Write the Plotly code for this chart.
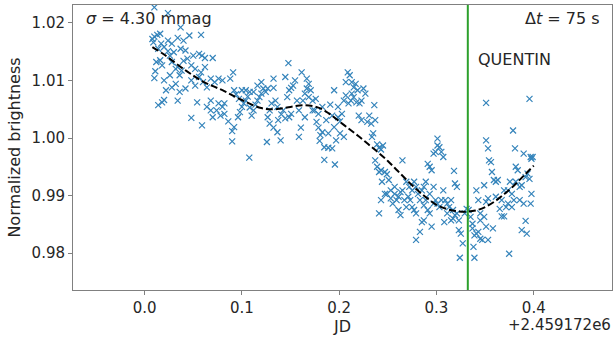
import plotly.graph_objects as go

# Light curve: JD offset from 2459172 and normalized brightness
jd_a = [0.010, 0.024, 0.037, 0.008, 0.010, 0.013, 0.016, 0.009, 0.017, 0.014,
        0.020, 0.024, 0.028, 0.024, 0.030, 0.026, 0.034, 0.040, 0.046, 0.058,
        0.037, 0.042, 0.044, 0.050, 0.056, 0.059, 0.062, 0.012, 0.016, 0.018,
        0.028, 0.034, 0.038, 0.040, 0.048, 0.052, 0.058, 0.062, 0.070, 0.011,
        0.010, 0.020, 0.026, 0.028, 0.032, 0.036, 0.048, 0.052, 0.056, 0.060,
        0.064, 0.068, 0.014, 0.018, 0.020, 0.034, 0.048, 0.054, 0.059, 0.036,
        0.022, 0.042, 0.032]
flux_a = [1.0227, 1.0217, 1.0192, 1.0172, 1.0176, 1.0179, 1.0181, 1.0166, 1.0164, 1.0155,
          1.0158, 1.0169, 1.0164, 1.0151, 1.0149, 1.0143, 1.0174, 1.0169, 1.0178, 1.0179,
          1.0155, 1.0152, 1.0138, 1.0143, 1.0146, 1.0143, 1.0139, 1.0132, 1.0135, 1.0126,
          1.0132, 1.0123, 1.0117, 1.0134, 1.0126, 1.0120, 1.0114, 1.0123, 1.0139, 1.0116,
          1.0104, 1.0100, 1.0109, 1.0088, 1.0094, 1.0109, 1.0100, 1.0091, 1.0106, 1.0097,
          1.0088, 1.0103, 1.0057, 1.0062, 1.0066, 1.0065, 1.0035, 1.0062, 1.0022, 1.0080,
          1.0083, 1.0086, 1.0120]

jd_b = [0.076, 0.072, 0.080, 0.088, 0.091, 0.064, 0.068, 0.070, 0.068, 0.076,
        0.080, 0.082, 0.086, 0.090, 0.090, 0.092, 0.096, 0.098, 0.100, 0.102,
        0.104, 0.106, 0.108, 0.092, 0.094, 0.097, 0.104, 0.108, 0.110, 0.112,
        0.114, 0.116, 0.118, 0.120, 0.122, 0.1245, 0.1265, 0.116, 0.120, 0.1325,
        0.1345, 0.1325, 0.1285, 0.1265, 0.1285, 0.1325, 0.1365, 0.1398, 0.1373, 0.1405,
        0.1425, 0.1446, 0.1486, 0.1506, 0.1466, 0.1486, 0.1506, 0.1526, 0.1546, 0.1076,
        0.1257, 0.1478, 0.1446, 0.100, 0.082, 0.074, 0.078, 0.112, 0.1305, 0.1365]
flux_b = [1.0103, 1.0097, 1.0100, 1.0103, 1.0114, 1.0054, 1.0048, 1.0036, 1.0065, 1.0060,
          1.0054, 1.0042, 1.0029, 1.0012, 0.9994, 1.0019, 1.0036, 1.0045, 1.0054, 1.0060,
          1.0065, 1.0072, 1.0080, 1.0083, 1.0076, 1.0068, 1.0083, 1.0053, 1.0039, 1.0048,
          1.0058, 1.0065, 1.0071, 1.0077, 1.0086, 1.0080, 1.0086, 1.0091, 1.0097, 1.0103,
          1.0065, 1.0087, 1.0048, 1.0036, 1.0025, 1.0018, 1.0010, 0.9996, 1.0031, 1.0041,
          1.0048, 1.0034, 1.0036, 1.0042, 1.0071, 1.0083, 1.0087, 1.0091, 1.0100, 0.9966,
          0.9993, 1.0130, 1.0106, 1.0083, 1.0060, 1.0048, 1.0039, 1.0080, 1.0060, 1.0054]

jd_c = [0.1566, 0.1586, 0.1606, 0.1586, 0.1627, 0.1614, 0.1647, 0.1667, 0.1687, 0.1667,
        0.1707, 0.1727, 0.1747, 0.1767, 0.1787, 0.1807, 0.1827, 0.1799, 0.1847, 0.1888,
        0.1928, 0.1847, 0.1956, 0.1948, 0.1908, 0.1928, 0.1948, 0.1988, 0.1988, 0.2008,
        0.2028, 0.2048, 0.2048, 0.2068, 0.2088, 0.2108, 0.2129, 0.2149, 0.2169, 0.2189,
        0.2149, 0.2120, 0.2096, 0.2177, 0.2209, 0.2229, 0.2201, 0.2229, 0.2249, 0.2269,
        0.2289, 0.2309, 0.2329, 0.2349, 0.2337, 0.2361, 0.2370, 0.1787, 0.1827, 0.1727,
        0.1687, 0.1759, 0.2008, 0.1888, 0.1968, 0.1867, 0.1647, 0.2129, 0.2068]
flux_c = [1.0065, 1.0048, 1.0018, 1.0002, 1.0065, 1.0114, 1.0077, 1.0086, 1.0094, 1.0103,
          1.0083, 1.0065, 1.0048, 1.0028, 1.0018, 1.0005, 1.0010, 0.9995, 0.9984, 0.9983,
          0.9982, 0.9962, 0.9954, 1.0083, 1.0058, 1.0039, 1.0019, 1.0054, 1.0036, 1.0029,
          1.0042, 1.0002, 1.0065, 1.0074, 1.0114, 1.0109, 1.0097, 1.0088, 1.0094, 1.0083,
          1.0071, 1.0065, 1.0060, 1.0062, 1.0060, 1.0065, 1.0039, 1.0031, 1.0086, 1.0077,
          1.0028, 1.0039, 1.0025, 1.0008, 1.0002, 1.0057, 1.0031, 1.0042, 1.0054, 1.0048,
          1.0071, 1.0068, 1.0008, 1.0008, 0.9996, 1.0031, 1.0036, 1.0077, 1.0097]

jd_d = [0.239, 0.241, 0.243, 0.245, 0.239, 0.241, 0.243, 0.247, 0.249, 0.244,
        0.249, 0.241, 0.243, 0.247, 0.253, 0.257, 0.255, 0.259, 0.261, 0.263,
        0.253, 0.265, 0.269, 0.272, 0.275, 0.277, 0.279, 0.281, 0.271, 0.269,
        0.273, 0.277, 0.279, 0.283, 0.285, 0.287, 0.291, 0.289, 0.293, 0.295,
        0.297, 0.299, 0.301, 0.303, 0.305, 0.307, 0.301, 0.293, 0.297, 0.299,
        0.301, 0.303, 0.289, 0.287, 0.285, 0.279, 0.283, 0.287, 0.291, 0.293,
        0.295, 0.297, 0.257, 0.251, 0.265, 0.267, 0.275, 0.261, 0.237, 0.263]
flux_d = [0.9989, 0.9983, 0.9980, 0.9987, 0.9950, 0.9941, 0.9944, 0.9941, 0.9937, 0.9924,
          0.9903, 0.9869, 0.9892, 0.9903, 0.9909, 0.9903, 0.9886, 0.9892, 0.9875, 0.9866,
          0.9895, 0.9961, 0.9924, 0.9915, 0.9909, 0.9924, 0.9915, 0.9903, 0.9898, 0.9880,
          0.9892, 0.9875, 0.9869, 0.9892, 0.9909, 0.9915, 0.9955, 0.9924, 0.9950, 0.9944,
          0.9973, 0.9976, 0.9999, 0.9984, 0.9976, 0.9967, 0.9987, 0.9903, 0.9915, 0.9892,
          0.9886, 0.9880, 0.9892, 0.9883, 0.9854, 0.9823, 0.9837, 0.9857, 0.9875, 0.9869,
          0.9846, 0.9886, 0.9915, 0.9927, 0.9909, 0.9892, 0.9880, 0.9898, 0.9961, 0.9906]

jd_e = [0.305, 0.307, 0.309, 0.311, 0.313, 0.315, 0.317, 0.318, 0.319, 0.321,
        0.308, 0.311, 0.315, 0.317, 0.319, 0.321, 0.323, 0.325, 0.327, 0.324,
        0.323, 0.329, 0.331, 0.333, 0.335, 0.337, 0.337, 0.339, 0.338, 0.339,
        0.341, 0.343, 0.345, 0.347, 0.349, 0.351, 0.345, 0.341, 0.343, 0.345,
        0.349, 0.351, 0.353, 0.351, 0.353, 0.354, 0.356, 0.357, 0.351, 0.361,
        0.361, 0.363, 0.365, 0.367, 0.3695, 0.3715, 0.3735, 0.3747, 0.3755, 0.3775,
        0.3787, 0.3807, 0.3815, 0.3835, 0.3815, 0.3855, 0.3876, 0.3896, 0.3916, 0.3936,
        0.3956, 0.3968, 0.3976, 0.3988, 0.3976, 0.3968, 0.3956, 0.3916, 0.3928, 0.3876,
        0.3775, 0.358, 0.353, 0.367, 0.3735, 0.359, 0.3855, 0.3896, 0.3695, 0.3795]
flux_e = [0.9892, 0.9909, 0.9892, 0.9886, 0.9880, 0.9892, 0.9875, 0.9943, 0.9921, 0.9915,
          0.9854, 0.9869, 0.9857, 0.9860, 0.9866, 0.9869, 0.9840, 0.9834, 0.9817, 0.9792,
          0.9857, 0.9869, 0.9877, 0.9875, 0.9863, 0.9851, 0.9843, 0.9831, 0.9811, 0.9792,
          0.9834, 0.9837, 0.9825, 0.9823, 0.9863, 0.9846, 0.9857, 0.9909, 0.9892, 0.9869,
          0.9918, 0.9889, 0.9895, 0.9996, 0.9982, 0.9961, 0.9958, 0.9941, 1.0061, 0.9924,
          0.9898, 0.9927, 0.9877, 0.9864, 0.9864, 0.9880, 0.9886, 0.9799, 0.9924, 0.9903,
          1.0013, 0.9982, 0.9950, 0.9944, 0.9924, 0.9915, 0.9918, 0.9973, 0.9932, 0.9938,
          0.9929, 0.9967, 0.9964, 0.9967, 0.9903, 0.9886, 1.0068, 0.9856, 0.9834, 0.9840,
          0.9880, 0.9843, 0.9823, 0.9892, 0.9909, 0.9927, 0.9892, 0.9886, 0.9909, 0.9892]

# Smooth trend through the light curve
trend_jd = [0.008, 0.02, 0.04, 0.06, 0.08, 0.10, 0.12, 0.135, 0.15, 0.165, 0.18,
            0.19, 0.20, 0.21, 0.22, 0.23, 0.24, 0.25, 0.26, 0.27, 0.28, 0.29,
            0.30, 0.31, 0.32, 0.33, 0.34, 0.35, 0.36, 0.37, 0.38, 0.39, 0.40]
trend_flux = [1.0158, 1.0145, 1.0120, 1.0098, 1.0083, 1.0066, 1.0052, 1.0050, 1.0054,
              1.0057, 1.0052, 1.0042, 1.0029, 1.0016, 1.0003, 0.9989, 0.9975, 0.9960,
              0.9943, 0.9926, 0.9910, 0.9896, 0.9884, 0.9877, 0.9873, 0.9872, 0.9874,
              0.9880, 0.9890, 0.9903, 0.9918, 0.9935, 0.9952]

event_jd = 0.3322          # QUENTIN marker
x_ticks = [0.0, 0.1, 0.2, 0.3, 0.4]
x_tick_labels = ["0.0", "0.1", "0.2", "0.3", "0.4"]
y_ticks = [0.98, 0.99, 1.00, 1.01, 1.02]
y_tick_labels = ["0.98", "0.99", "1.00", "1.01", "1.02"]
sigma_mmag = 4.30
cadence_s = 75

jd = jd_a + jd_b + jd_c + jd_d + jd_e
flux = flux_a + flux_b + flux_c + flux_d + flux_e
assert len(jd) == len(flux)

FONT = "DejaVu Sans"
BLUE = "#1f77b4"
AXIS = "#808080"
TEXT = "#262626"

fig = go.Figure()
fig.add_trace(go.Scatter(
    x=jd, y=flux, mode="markers",
    marker=dict(symbol="x-thin", size=6, color=BLUE,
                line=dict(color=BLUE, width=1.2)),
    opacity=0.9, showlegend=False, hoverinfo="skip"))
fig.add_trace(go.Scatter(
    x=trend_jd, y=trend_flux, mode="lines",
    line=dict(color="black", width=2, dash="7px,3px", shape="spline"),
    showlegend=False, hoverinfo="skip"))

fig.add_shape(type="line", xref="x", yref="paper", x0=event_jd, x1=event_jd,
              y0=0, y1=1, line=dict(color="#2ca02c", width=2), layer="above")

axis_common = dict(showline=True, mirror=True, linecolor=AXIS, linewidth=1,
                   ticks="outside", ticklen=4, tickcolor=AXIS, tickwidth=1,
                   showgrid=False, zeroline=False,
                   tickfont=dict(family=FONT, size=15, color=TEXT))

fig.update_layout(
    width=613, height=337,
    margin=dict(l=73, r=1, t=5, b=47),
    paper_bgcolor="white", plot_bgcolor="white",
    font=dict(family=FONT, color=TEXT),
    xaxis=dict(range=[-0.0736, 0.4804], tickvals=x_ticks, ticktext=x_tick_labels,
               title=dict(text="JD", font=dict(family=FONT, size=16, color=TEXT),
                          standoff=2),
               **axis_common),
    yaxis=dict(range=[0.9736, 1.0231], tickvals=y_ticks, ticktext=y_tick_labels,
               title=dict(text="Normalized brightness",
                          font=dict(family=FONT, size=16, color=TEXT), standoff=6),
               **axis_common),
)

# Offset text for the JD axis, below the last tick label
fig.add_annotation(text="+2.459172e6", xref="paper", yref="paper", x=1.0, y=-0.122,
                   xanchor="right", yanchor="middle", showarrow=False, borderpad=0,
                   font=dict(family=FONT, size=15, color=TEXT))
fig.add_annotation(text=f"<i>σ</i> = {sigma_mmag:.2f} mmag", xref="paper", yref="paper",
                   x=0.021, y=0.954, xanchor="left", yanchor="middle", showarrow=False,
                   font=dict(family=FONT, size=16, color=TEXT))
fig.add_annotation(text=f"Δ<i>t</i> = {cadence_s} s", xref="paper", yref="paper",
                   x=0.982, y=0.954, xanchor="right", yanchor="middle", showarrow=False,
                   font=dict(family=FONT, size=16, color=TEXT))
fig.add_annotation(text="QUENTIN", xref="paper", yref="paper",
                   x=0.748, y=0.8105, xanchor="left", yanchor="middle", showarrow=False,
                   font=dict(family=FONT, size=16, color=TEXT))

fig.write_html("out.html")
